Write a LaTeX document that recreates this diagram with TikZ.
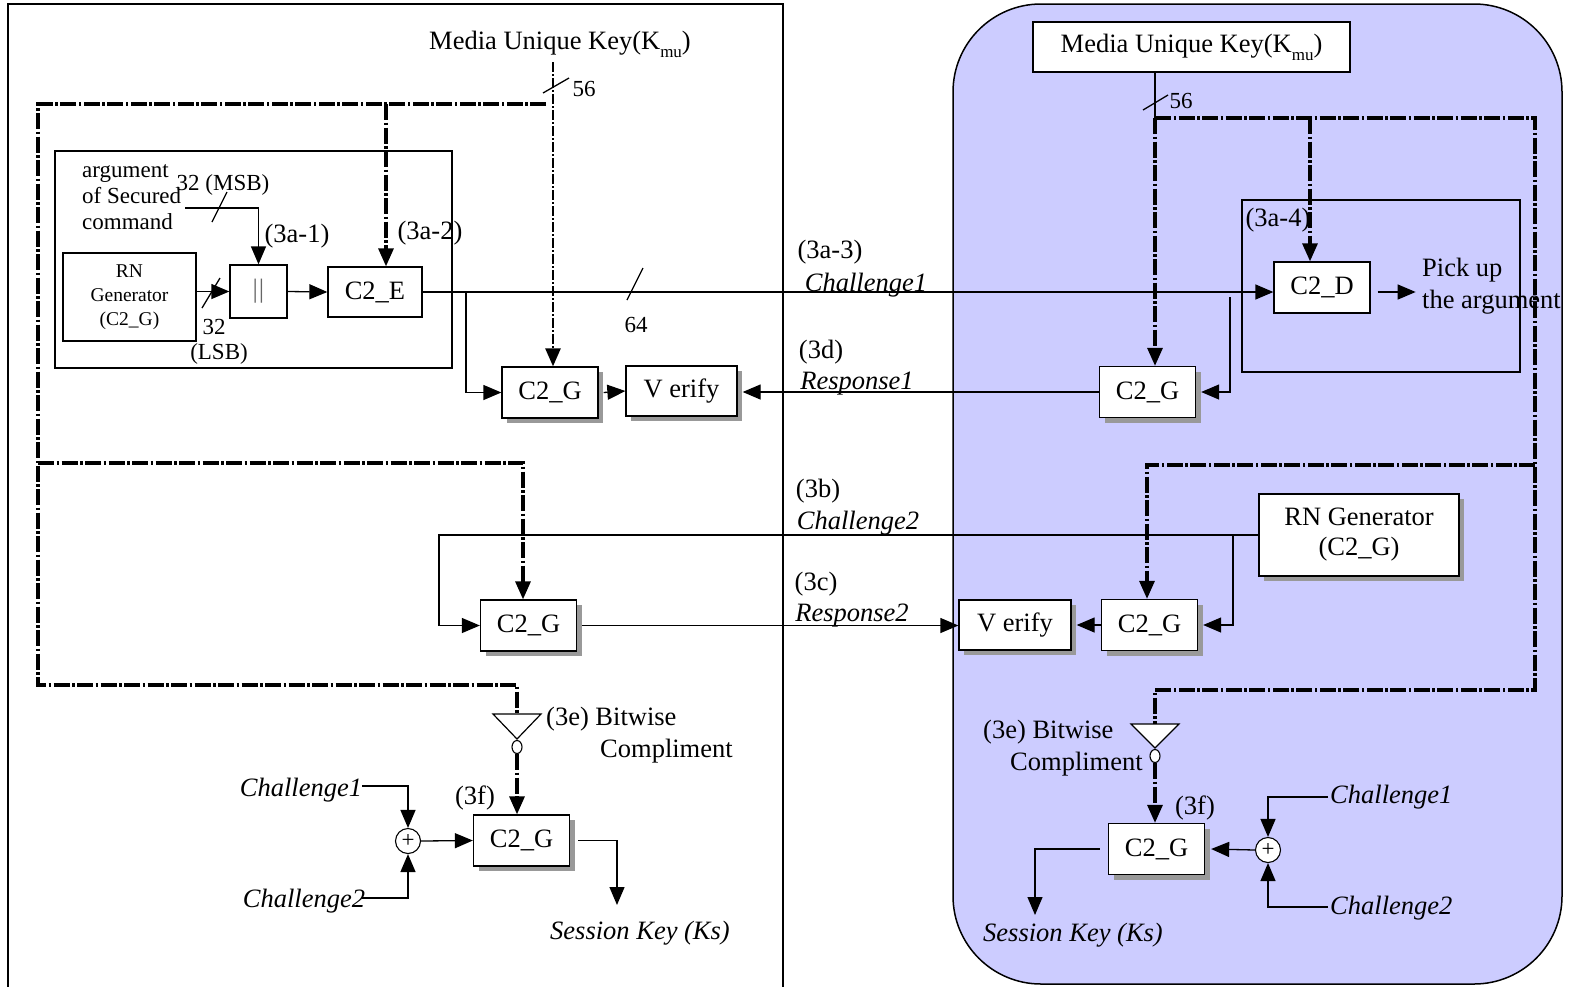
\documentclass[tikz,border=0pt]{standalone}
\usepackage{fontspec}
\setmainfont{Liberation Serif}
\usetikzlibrary{arrows.meta,shadows,shapes.geometric}
\newcommand\szA{\fontsize{26.5}{30}\selectfont}
\newcommand\szB{\fontsize{23}{26}\selectfont}
\newcommand\szC{\fontsize{19.5}{24}\selectfont}
\newcommand\kmu{K\raisebox{-0.3em}{\fontsize{17}{17}\selectfont mu})}
\definecolor{panel}{HTML}{CCCCFF}
\begin{document}
\begin{tikzpicture}[x=1pt,y=-1pt,
  ln/.style={line width=1.3pt},
  arr/.style={-{Triangle[length=18pt,width=15pt]}},
  dd/.style={line width=3.2pt, dash pattern=on 16pt off 2.5pt on 2.5pt off 2.5pt},
  kd/.style={line width=2.6pt, dash pattern=on 10pt off 2pt on 2pt off 2pt},
  blk/.style={draw, line width=1.3pt, fill=white, minimum width=96pt, minimum height=51pt, inner sep=0pt, font=\szA},
  shd/.style={drop shadow={shadow xshift=5pt, shadow yshift=-5pt, fill=black!40, opacity=1}},
  lbl/.style={font=\szA, inner sep=0pt},
  lbs/.style={font=\szB, inner sep=0pt},
  it/.style={font=\szA\itshape, inner sep=0pt},
  inv/.style={draw, ellipse, line width=1.1pt, fill=white, minimum width=10pt, minimum height=13pt, inner sep=0pt},
  xr/.style={draw, circle, line width=1.1pt, fill=white, minimum size=25pt, inner sep=0pt, font=\szB},
]
\useasboundingbox (0,0) rectangle (1573,986);
\fill[white] (0,0) rectangle (1573,986);
% panels
\draw[line width=1.3pt] (8,995) -- (8,4) -- (783,4) -- (783,995);
\draw[line width=1.5pt, fill=panel, rounded corners=88pt] (953,984) rectangle (1562,4);
\draw[line width=1.3pt] (55,151) rectangle (452,368);
\draw[line width=1.3pt] (1242,200) rectangle (1520,372);

% ---------- left side nodes ----------
\node[lbl] (keyL) at (560,44) {Media Unique Key(\kmu};
\node[lbs, align=left, anchor=north west] (argt) at (82,164) {argument\\of Secured\\command};
\node[lbs] (msbt) at (223,185) {32 (MSB)};
\node[draw, line width=1.3pt, fill=white, minimum width=133pt, minimum height=88pt, inner sep=0pt, align=center, font=\szC] (rnL) at (129.5,297) {RN\\Generator\\(C2\_G)};
\node[draw, line width=1.3pt, fill=white, minimum width=57pt, minimum height=53pt, inner sep=0pt, font=\szA] (cat) at (258.5,291.5) {\textcolor{black!60}{\textbar\kern1pt\textbar}};
\node[blk, minimum width=94pt, minimum height=50pt] (c2e) at (375,292) {C2\_E};
\node[blk, shd] (g1) at (550,392.5) {C2\_G};
\node[blk, shd, minimum width=111pt, minimum height=50pt] (v1) at (681.5,391) {V erify};
\node[blk, shd] (g2) at (528.5,625.5) {C2\_G};
\node[blk, shd] (g3) at (521.5,840.5) {C2\_G};
\node[xr] (xorL) at (408,841) {+};

\node[lbs] (l56a) at (584,89) {56};
\node[lbs] (l32b) at (214,327) {32};
\node[lbs] (llsb) at (219,354) {(LSB)};
\node[lbl] (l3a1) at (297,236) {(3a-1)};
\node[lbl] (l3a2) at (430,233) {(3a-2)};
\node[lbs] (l64) at (636,325) {64};
\node[lbl] (l3a3) at (830,252) {(3a-3)};
\node[it] (tch1) at (866,285) {Challenge1};
\node[lbl] (l3d) at (821,352) {(3d)};
\node[it] (tre1) at (857,384) {Response1};
\node[lbl] (l3b) at (818,491) {(3b)};
\node[it] (tch2) at (858,523) {Challenge2};
\node[lbl] (l3c) at (816,584) {(3c)};
\node[it] (tre2) at (852,616) {Response2};
\node[lbl, anchor=west] (l3eL) at (546,719) {(3e) Bitwise};
\node[lbl, anchor=west] (lcoL) at (600,751) {Compliment};
\node[lbl] (l3fL) at (475,798) {(3f)};
\node[it] (c1Lt) at (301,790) {Challenge1};
\node[it] (c2Lt) at (304,901) {Challenge2};
\node[it] (skLt) at (640,933) {Session Key (Ks)};

% ---------- right side nodes ----------
\node[blk, minimum width=317pt, minimum height=50pt] (keyR) at (1191.5,47) {Media Unique Key(\kmu};
\node[blk, shd] (g4) at (1147.5,392) {C2\_G};
\node[blk] (c2d) at (1322,287.5) {C2\_D};
\node[blk, shd, minimum width=200pt, minimum height=82pt, align=center] (rnR) at (1359,535) {RN Generator\\(C2\_G)};
\node[blk, shd] (g5) at (1149.5,625) {C2\_G};
\node[blk, shd, minimum width=112pt, minimum height=50pt] (v2) at (1015,625) {V erify};
\node[blk, shd] (g6) at (1156.5,849) {C2\_G};
\node[xr] (xorR) at (1268,850) {+};

\node[lbs] (l56b) at (1181,101) {56};
\node[lbl] (l3a4) at (1278,220) {(3a-4)};
\node[lbl, anchor=west] (pk1) at (1422,270) {Pick up};
\node[lbl, anchor=west] (pk2) at (1422,302) {the argument};
\node[lbl, anchor=west] (l3eR) at (983,732) {(3e) Bitwise};
\node[lbl, anchor=west] (lcoR) at (1010,764) {Compliment};
\node[lbl] (l3fR) at (1195,808) {(3f)};
\node[it, anchor=west] (c1Rt) at (1330,797) {Challenge1};
\node[it, anchor=west] (c2Rt) at (1330,908) {Challenge2};
\node[it] (skRt) at (1073,935) {Session Key (Ks)};

% ---------- coordinates ----------
\coordinate (kL) at (553,62);
\coordinate (jA) at (386,104);
\coordinate (jB) at (523,463);
\coordinate (triLtop) at (517,714);
\coordinate (kR) at (1155,118);
\coordinate (jC) at (1310,118);
\coordinate (jD) at (1147,465);
\coordinate (triRtop) at (1155,724);
\coordinate (bA) at (466,292);
\coordinate (bB) at (1230,297);
\coordinate (bC) at (439,0);
\coordinate (bD) at (1233,0);
\coordinate (msb) at (185,208);
\coordinate (c1L) at (362,786);
\coordinate (c2L) at (362,898);
\coordinate (skL) at (617,905);
\coordinate (c1R) at (1328,797);
\coordinate (c2R) at (1328,907);
\coordinate (skR) at (1035,915);

% ---------- dash-dot key networks ----------
\draw[dd] (546,104) -- (38,104) -- (38,685) -- (517,685) -- (triLtop);
\draw[dd, arr] (jA) -- (jA |- c2e.north);
\draw[dd, arr] (38,463) -- (jB) -- (jB |- g2.north);
\draw[kd, arr] (kL) -- (kL |- g1.north);
\draw[ln] (543,93) -- (569,78);

\draw[ln] (keyR.south -| kR) -- (kR);
\draw[dd, arr] (kR) -- (kR |- g4.north);
\draw[dd] (kR) -- (1535,118) -- (1535,690) -- (1155,690) -- (triRtop);
\draw[dd, arr] (jC) -- (jC |- c2d.north);
\draw[dd, arr] (1535,465) -- (jD) -- (jD |- g5.north);
\draw[ln] (1143,110) -- (1168,95);

% inverters
\draw[line width=1.2pt, fill=white] (493,714) -- (541,714) -- (517,739) -- cycle;
\node[inv] (invL) at (517,747) {};
\draw[dd, arr] (invL.south) -- (invL.south |- g3.north);
\draw[line width=1.2pt, fill=white] (1131,724) -- (1179,724) -- (1155,748) -- cycle;
\node[inv] (invR) at (1155,756) {};
\draw[dd, arr] (invR.south) -- (invR.south |- g6.north);

% ---------- signal lines ----------
\draw[ln, arr] (msb) -| (cat.north);
\draw[ln] (212,222) -- (227,192);
\draw[ln, arr] (rnL.east |- cat.west) -- (cat.west);
\draw[ln] (202,308) -- (220,278);
\draw[ln, arr] (cat.east) -- (c2e.west);
\draw[ln, arr] (c2e.east) -- (c2e.east -| c2d.west);
\draw[ln] (627,300) -- (643,268);
\draw[ln, arr] (bA) |- (g1.west);
\draw[ln, arr] ([xshift=5pt]g1.east) -- (v1.west);
\draw[ln, arr] (g4.west) -- ([xshift=5pt]v1.east |- g4.west);
\draw[ln, arr] (bB) |- ([xshift=5pt]g4.east);
\draw[ln, arr] ([xshift=7pt]c2d.east |- 0,292) -- ++(38,0);

\draw[ln, arr] (rnR.west) -- (rnR.west -| bC) |- (g2.west);
\draw[ln, arr] (rnR.west -| bD) |- ([xshift=5pt]g5.east);
\draw[ln, arr] (g5.west) -- ([xshift=5pt]v2.east);
\draw[ln, arr] ([xshift=5pt]g2.east) -- (g2.east -| v2.west);

\draw[ln, arr] (c1L) -| (xorL.north);
\draw[ln, arr] (c2L) -| (xorL.south);
\draw[ln, arr] (xorL.east) -- (g3.west);
\draw[ln, arr] ([xshift=8pt]g3.east) -| (skL);

\draw[ln, arr] (c1R) -| (xorR.north);
\draw[ln, arr] (c2R) -| (xorR.south);
\draw[ln, arr] (xorR.west) -- ([xshift=6pt]g6.east);
\draw[ln, arr] ([xshift=-8pt]g6.west) -| (skR);
\end{tikzpicture}
\end{document}
